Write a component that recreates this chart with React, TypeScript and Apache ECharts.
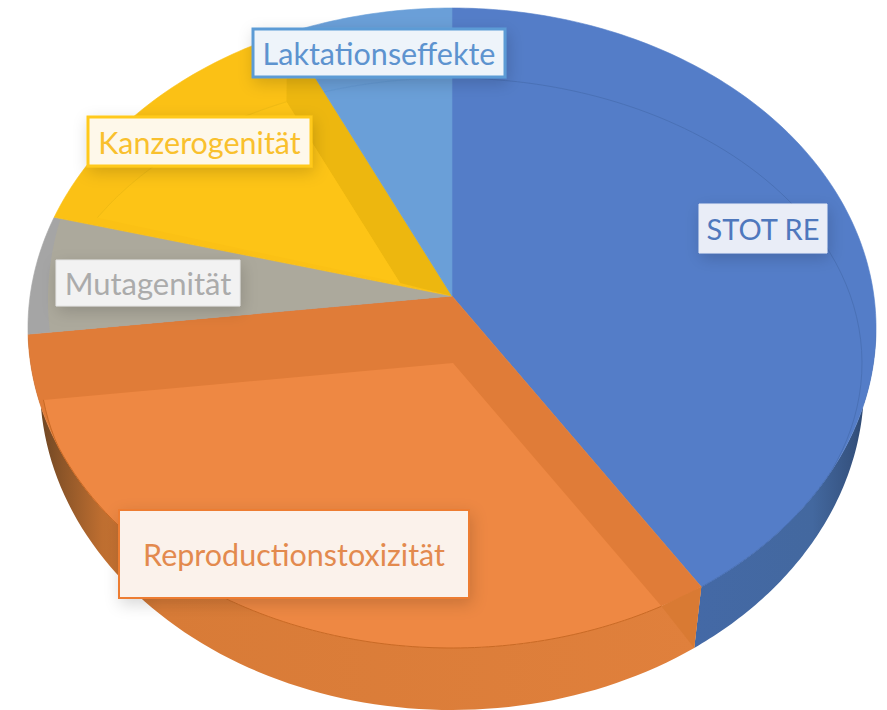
import React, { useEffect, useRef } from "react";
import * as echarts from "echarts";

const categories = ["STOT RE", "Reproductionstoxizität", "Mutagenität", "Kanzerogenität", "Laktationseffekte"];
const shares = [40.9, 32.2, 6.0, 13.9, 7.0];

const baseColors = ["#547DC8", "#E07C38", "#A5A5A5", "#FBC115", "#6A9FD8"];
const labelInk = ["#4F78BD", "#E38A4E", "#ABABAB", "#F9C02D", "#5D93CF"];
const labelFill = ["#E9EDF7", "#FBF2EB", "#F2F2F2", "#FEF8EA", "#EEF4FA"];
const labelEdge = ["#E4E9F5", "#ED7D31", "#E4E4E4", "#FFC91A", "#5B9BD5"];
const labelEdgeWidth = [1, 2, 1, 3, 3];
const labelFont = [29, 30.5, 31, 30.5, 30.5];
const labelBox = [
  [699, 204, 128, 49],
  [119, 510, 350, 88],
  [56, 260, 184, 46],
  [88, 117, 223, 49],
  [253, 29, 252, 48],
];

type Ell = { cx: number; cy: number; rx: number; ry: number };
type Pt = [number, number];

const APEX: Pt = [452, 296];
const TOP: Ell = { cx: 452, cy: 328, rx: 424, ry: 320 };
const BOTTOM: Ell = { cx: 452, cy: 385, rx: 412, ry: 325 };
const INNER: Ell = { cx: 451, cy: 363, rx: 411, ry: 285 };
const GREY_INNER: Ell = { cx: 452, cy: 300, rx: 404, ry: 329 };
const PERSP = 0.1;

const faces: any[] = [
  { apex: APEX, ell: INNER, fill: null, arc: "#4A71B6" },
  { apex: [453, 363], ell: INNER, fill: "#EE8843", arc: "#C96A25", fold: "#D97A33" },
  { apex: APEX, ell: GREY_INNER, fill: "#ACA99C", arc: null },
  { apex: [400, 283], ell: INNER, fill: "#FDC416", arc: "#EFBB14", strip: "#EDB70F", startTurn: 1 },
  { apex: APEX, ell: INNER, fill: null, arc: "#6399D3" },
];

const wallStops: any = {
  0: [
    [0, "#4469A6"],
    [0.65, "#43689F"],
    [0.88, "#35527F"],
    [1, "#243C60"],
  ],
  1: [
    [0, "#5F3F22"],
    [0.05, "#8C5528"],
    [0.11, "#BE6E30"],
    [0.2, "#D87B37"],
    [1, "#E0803C"],
  ],
};

const total = shares.reduce((a, b) => a + b, 0);
const starts: number[] = [];
shares.reduce((acc, v, i) => {
  starts[i] = acc;
  return acc + v;
}, 0);

const rad = (share: number) => (share / total) * Math.PI * 2;

function project(theta: number): Pt {
  const u = Math.sin(theta);
  const v = Math.cos(theta);
  const w = 1 + PERSP * v;
  return [APEX[0] + (421.9 * u) / w, APEX[1] - (316.8 * v) / w];
}

function rayHit(o: Pt, a: number, e: Ell): number {
  const dx = Math.cos(a) / e.rx;
  const dy = Math.sin(a) / e.ry;
  const ox = (o[0] - e.cx) / e.rx;
  const oy = (o[1] - e.cy) / e.ry;
  const A = dx * dx + dy * dy;
  const B = 2 * (ox * dx + oy * dy);
  const C = ox * ox + oy * oy - 1;
  return (-B + Math.sqrt(Math.max(0, B * B - 4 * A * C))) / (2 * A);
}

function faceArc(o: Pt, a0: number, a1: number, e: Ell): Pt[] {
  const out: Pt[] = [];
  const n = 90;
  for (let i = 0; i <= n; i++) {
    const a = a0 + ((a1 - a0) * i) / n;
    const t = Math.min(rayHit(o, a, e), rayHit(o, a, TOP));
    out.push([o[0] + t * Math.cos(a), o[1] + t * Math.sin(a)]);
  }
  return out;
}

function dirOf(p: Pt, o: Pt = APEX) {
  return Math.atan2(p[1] - o[1], p[0] - o[0]);
}

function renderSlice(params: any, api: any) {
  const i = params.dataIndex;
  const th0 = rad(starts[i]);
  const th1 = th0 + rad(api.value(0));
  const children: any[] = [];

  const phiOf = (p: Pt) => Math.atan2((p[1] - TOP.cy) / TOP.ry, (p[0] - TOP.cx) / TOP.rx);
  const p0 = project(th0);
  const p1 = project(th1);
  let f0 = phiOf(p0);
  let f1 = phiOf(p1);
  if (f1 < f0) f1 += Math.PI * 2;
  const wa = Math.max(f0, 0);
  const wb = Math.min(f1, Math.PI);
  if (wallStops[i] && wb - wa > 0.03) {
    const pts: Pt[] = [];
    const n = 80;
    for (let k = 0; k <= n; k++) {
      const f = wa + ((wb - wa) * k) / n;
      pts.push([BOTTOM.cx + BOTTOM.rx * Math.cos(f), BOTTOM.cy + BOTTOM.ry * Math.sin(f)]);
    }
    for (let k = n; k >= 0; k--) {
      const f = wa + ((wb - wa) * k) / n;
      pts.push([TOP.cx + TOP.rx * Math.cos(f), TOP.cy + TOP.ry * Math.sin(f)]);
    }
    children.push({
      type: "polygon",
      shape: { points: pts },
      style: {
        fill: new echarts.graphic.LinearGradient(
          0,
          0,
          1,
          0,
          wallStops[i].map((s: any) => ({ offset: s[0], color: s[1] }))
        ),
      },
    });
  }

  const rimPts: Pt[] = [APEX];
  const steps = Math.max(8, Math.round(((th1 - th0) * 180) / Math.PI));
  for (let k = 0; k <= steps; k++) rimPts.push(project(th0 + ((th1 - th0) * k) / steps));
  children.push({
    type: "polygon",
    shape: { points: rimPts },
    style: { fill: baseColors[i], stroke: baseColors[i], lineWidth: 0.6 },
  });

  const face = faces[i];
  const d0 = dirOf(p0) + ((face.startTurn || 0) * Math.PI) / 180;
  let d1 = dirOf(p1);
  if (d1 < d0) d1 += Math.PI * 2;
  const arc = faceArc(face.apex, d0, d1, face.ell);
  if (face.strip) {
    children.push({
      type: "polygon",
      shape: { points: [APEX, face.apex, arc[arc.length - 1], p1] },
      style: { fill: face.strip },
    });
  }
  if (face.fill) {
    children.push({
      type: "polygon",
      shape: { points: [face.apex, ...arc] },
      style: { fill: face.fill },
    });
  }
  if (face.arc) {
    children.push({
      type: "polyline",
      shape: { points: arc },
      style: { fill: "none", stroke: face.arc, lineWidth: 1 },
    });
  }
  if (face.fold) {
    const bx = BOTTOM.cx + BOTTOM.rx * Math.cos(f0);
    const by = BOTTOM.cy + BOTTOM.ry * Math.sin(f0);
    children.push({
      type: "polygon",
      shape: { points: [arc[0], p0, [bx, by]] },
      style: { fill: face.fold },
    });
  }
  return { type: "group", children };
}

function renderLabel(params: any, api: any) {
  const i = params.dataIndex;
  const [x, y, w, h] = labelBox[i];
  return {
    type: "group",
    children: [
      {
        type: "rect",
        shape: { x, y, width: w, height: h },
        style: {
          fill: labelFill[i],
          stroke: labelEdge[i],
          lineWidth: labelEdgeWidth[i],
          shadowBlur: 16,
          shadowColor: "rgba(0,0,0,0.16)",
          shadowOffsetX: 2,
          shadowOffsetY: 5,
        },
      },
      {
        type: "text",
        style: {
          x: x + w / 2,
          y: y + h / 2,
          text: categories[i],
          fill: labelInk[i],
          font: `${labelFont[i]}px Lato`,
          align: "center",
          verticalAlign: "middle",
        },
      },
    ],
  };
}

export default function App() {
  const ref = useRef<HTMLDivElement>(null);
  useEffect(() => {
    document.body.style.margin = "0";
    const chart = echarts.init(ref.current!, undefined, { renderer: "svg" });
    chart.setOption({
      animation: false,
      backgroundColor: "#FFFFFF",
      series: [
        {
          type: "custom",
          coordinateSystem: "none",
          silent: true,
          z: 1,
          data: shares.map((v) => [v]),
          renderItem: renderSlice,
        },
        {
          type: "custom",
          coordinateSystem: "none",
          silent: true,
          z: 5,
          data: categories.map((c) => ({ name: c, value: [0] })),
          renderItem: renderLabel,
        },
      ],
    });
    return () => chart.dispose();
  }, []);
  return <div ref={ref} style={{ width: 887, height: 710 }} />;
}
